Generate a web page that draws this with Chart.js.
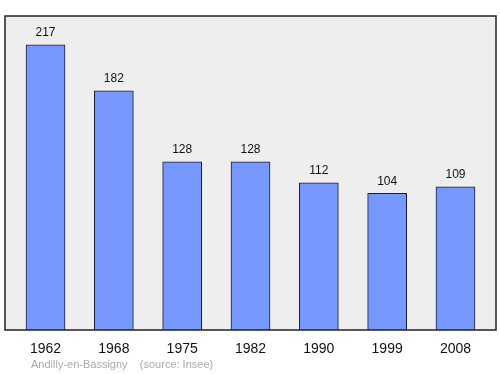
<!DOCTYPE html>
<html>
<head>
<meta charset="utf-8">
<script src="https://cdn.jsdelivr.net/npm/chart.js@4"></script>
<style>
  html, body { margin: 0; padding: 0; background: #fff; }
  #wrap { width: 500px; height: 374px; }
</style>
</head>
<body>
<div id="wrap"><canvas id="chart"></canvas></div>
<script>
const years = ['1962', '1968', '1975', '1982', '1990', '1999', '2008'];
const population = [217, 182, 128, 128, 112, 104, 109];
const sourceText = 'Andilly-en-Bassigny    (source: Insee)';

const frame = {
    id: 'frame',
    beforeDraw(chart) {
        const a = chart.chartArea, ctx = chart.ctx;
        ctx.save();
        ctx.fillStyle = '#eeeeee';
        ctx.fillRect(a.left, a.top, a.right - a.left, a.bottom - a.top);
        ctx.restore();
    },
    afterDatasetsDraw(chart) {
        const a = chart.chartArea, ctx = chart.ctx;
        ctx.save();
        ctx.strokeStyle = '#222';
        ctx.lineWidth = 1.5;
        ctx.strokeRect(a.left, a.top, a.right - a.left, a.bottom - a.top);
        // values above bars
        ctx.fillStyle = '#111';
        ctx.font = '12px "Liberation Sans", Arial, sans-serif';
        ctx.textAlign = 'center';
        ctx.textBaseline = 'bottom';
        chart.getDatasetMeta(0).data.forEach((bar, i) => {
            ctx.fillText(population[i], bar.x, bar.y - 6);
        });
        // source line
        ctx.fillStyle = '#aaaaaa';
        ctx.font = '11px "Liberation Sans", Arial, sans-serif';
        ctx.textAlign = 'left';
        ctx.textBaseline = 'middle';
        ctx.fillText(sourceText, 31, 365);
        ctx.restore();
    }
};

new Chart(document.getElementById('chart'), {
    type: 'bar',
    data: {
        datasets: [{
            data: population.map((v, i) => ({ x: i, y: v })),
            backgroundColor: '#7799ff',
            borderColor: '#1a1a3a',
            borderWidth: 1,
            barThickness: 39
        }]
    },
    options: {
        responsive: true,
        maintainAspectRatio: false,
        animation: false,
        layout: { padding: { left: 5, right: 4, top: 16, bottom: 0 } },
        plugins: {
            legend: { display: false },
            tooltip: { enabled: false }
        },
        scales: {
            x: {
                type: 'linear',
                offset: false,
                min: -0.593,
                max: 6.593,
                grid: { display: false },
                border: { display: false },
                afterBuildTicks: s => { s.ticks = years.map((y, i) => ({ value: i })); },
                afterFit: s => { s.height = 44; },
                ticks: {
                    padding: 3,
                    color: '#111',
                    font: { size: 14, family: '"Liberation Sans", Arial, sans-serif' },
                    callback: (v) => years[v]
                }
            },
            y: {
                display: false,
                min: 0,
                max: 239
            }
        }
    },
    plugins: [frame]
});
</script>
</body>
</html>
